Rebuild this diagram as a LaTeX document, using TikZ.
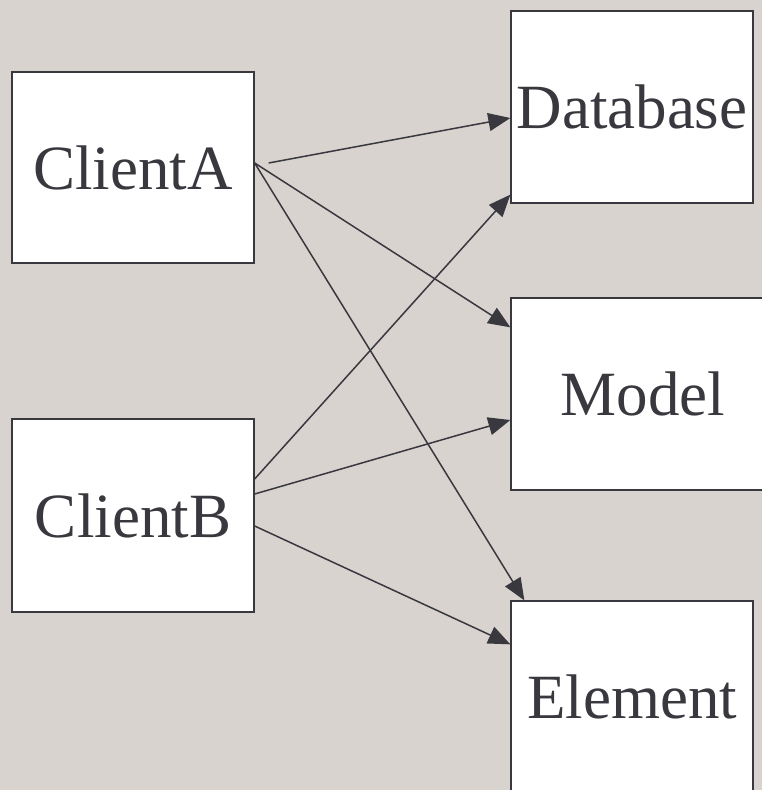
\documentclass[tikz,border=0pt]{standalone}
\usepackage{fontspec}
\setmainfont{Liberation Serif}
\usetikzlibrary{arrows.meta}
\definecolor{bgc}{HTML}{D9D3D0}
\definecolor{ink}{HTML}{38383E}
\begin{document}
\begin{tikzpicture}[x=1pt,y=-1pt,
  box/.style={draw=ink,line width=1.3pt,fill=white,inner sep=0pt,text=ink,
    font=\rmfamily\fontsize{63}{70}\selectfont},
  conn/.style={draw=ink,line width=1.5pt,-{Triangle[length=22pt,width=18pt]}}]
\fill[bgc] (0,0) rectangle (762,790);
\useasboundingbox (0,0) rectangle (762,790);
\begin{scope}
\clip (0,0) rectangle (762,790);
\node[box,minimum width=242pt,minimum height=191pt] (A) at (133,167.5) {ClientA};
\node[box,minimum width=242pt,minimum height=193pt] (B) at (133,515.5) {ClientB};
\node[box,minimum width=242pt,minimum height=192pt] (DB) at (632,107) {Database};
\node[box,minimum width=264pt,minimum height=192pt] (M) at (643,394) {Model};
\node[box,minimum width=242pt,minimum height=192pt] (E) at (632,697) {Element};
\draw[conn] ([xshift=14pt,yshift=4.5pt]A.east) -- ([yshift=-11pt]DB.west);
\draw[conn] ([yshift=4.5pt]A.east) -- ([yshift=-30pt]M.north west);
\draw[conn] ([yshift=4.5pt]A.east) -- ([xshift=14pt]E.north west);
\draw[conn] ([yshift=36.5pt]B.east) -- ([yshift=9pt]DB.south west);
\draw[conn] ([yshift=21.5pt]B.east) -- ([yshift=-26pt]M.west);
\draw[conn] ([yshift=-10.5pt]B.east) -- ([yshift=-44pt]E.north west);
\end{scope}
\end{tikzpicture}
\end{document}
